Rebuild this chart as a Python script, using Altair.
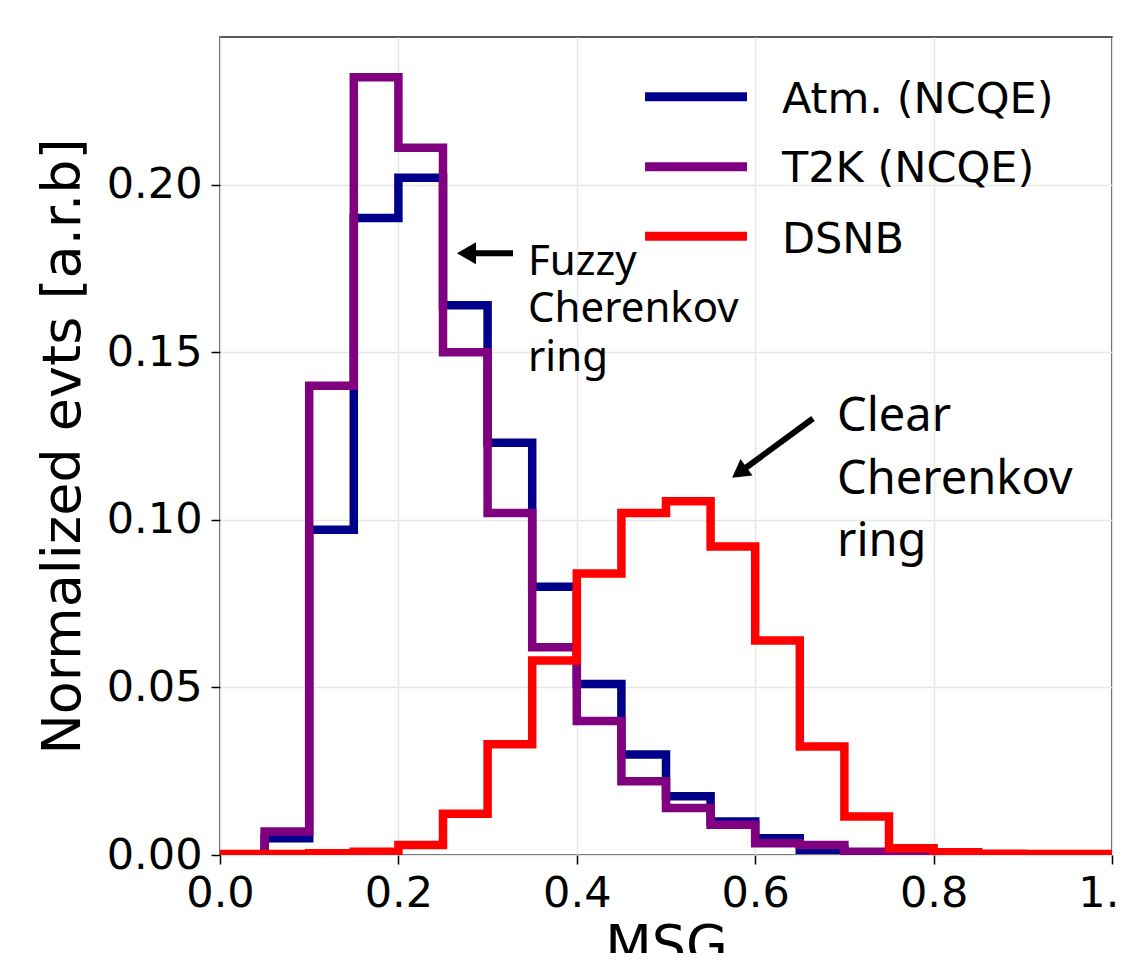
import altair as alt
import pandas as pd

# ---- data ----
bin_lefts = [0.00, 0.05, 0.10, 0.15, 0.20, 0.25, 0.30, 0.35, 0.40, 0.45,
             0.50, 0.55, 0.60, 0.65, 0.70, 0.75, 0.80, 0.85, 0.90, 0.95]
last_edge = 1.0

atm = [0.0, 0.005, 0.097, 0.190, 0.202, 0.164, 0.123, 0.080, 0.051, 0.030,
       0.0175, 0.010, 0.005, 0.0016, 0.0005, 0.0, 0.0, 0.0, 0.0, 0.0]
t2k = [0.0, 0.007, 0.140, 0.232, 0.211, 0.150, 0.102, 0.062, 0.040, 0.022,
       0.014, 0.009, 0.0035, 0.003, 0.001, 0.0005, 0.0, 0.0, 0.0, 0.0]
dsnb = [0.0003, 0.0003, 0.0005, 0.001, 0.003, 0.0123, 0.033, 0.058, 0.084, 0.102,
        0.1055, 0.092, 0.064, 0.0324, 0.0115, 0.002, 0.0008, 0.0004, 0.0003, 0.0003]

series_names = ["Atm. (NCQE)", "T2K (NCQE)", "DSNB"]
series_colors = ["#00008b", "#800080", "#ff0000"]

x_ticks = [0.0, 0.2, 0.4, 0.6, 0.8, 1.0]
y_ticks = [0.00, 0.05, 0.10, 0.15, 0.20]

# legend placement (data units)
legend_x0 = 0.4765
legend_x1 = 0.5908
legend_label_x = 0.630
legend_line_y = [0.2262, 0.2053, 0.1846]
legend_text_y = [0.2213, 0.2008, 0.1795]

# annotations (data units)
fuzzy_lines = ["Fuzzy", "Cherenkov", "ring"]
fuzzy_x = 0.3453
fuzzy_y = [0.1729, 0.1589, 0.1445]
clear_lines = ["Clear", "Cherenkov", "ring"]
clear_x = 0.6917
clear_y = [0.1266, 0.1077, 0.0892]

# ---- tables ----
rows = []
for name, vals in zip(series_names, [atm, t2k, dsnb]):
    for e, v in zip(bin_lefts, vals):
        rows.append({"series": name, "x": e, "y": v})
    rows.append({"series": name, "x": last_edge, "y": vals[-1]})
hist = pd.DataFrame(rows)

xs = alt.Scale(domain=[0, 1], nice=False, zero=False)
ys = alt.Scale(domain=[0, 0.244], nice=False, zero=False)

axis_common = dict(
    labelFontSize=43, labelColor="black", labelFont="DejaVu Sans",
    tickSize=9, tickWidth=1.5, tickColor="black",
    titleFontSize=54, titleFontWeight="normal", titleColor="black", titleFont="DejaVu Sans",
    grid=True, gridColor="#e6e6e6", gridWidth=1.5, domain=False,
    labelFlush=False, labelOverlap=False, labelBound=False,
)
x_axis = alt.Axis(values=x_ticks, format=".1f", title="MSG", labelPadding=8, titlePadding=4, **axis_common)
y_axis = alt.Axis(values=y_ticks, format=".2f", title="Normalized evts [a.r.b]", labelPadding=9, titlePadding=16, **axis_common)


def X(field):
    return alt.X(field, scale=xs, axis=x_axis)


def Y(field):
    return alt.Y(field, scale=ys, axis=y_axis)


layers = []
for name, col in zip(series_names, series_colors):
    layers.append(
        alt.Chart(hist).transform_filter(alt.datum.series == name)
        .mark_line(interpolate="step-after", color=col, strokeWidth=8.5, clip=True,
                   strokeJoin="miter", strokeCap="butt")
        .encode(x=X("x:Q"), y=Y("y:Q"))
    )

# legend
leg = pd.DataFrame({
    "series": series_names, "x0": [legend_x0] * 3, "x1": [legend_x1] * 3,
    "ly": legend_line_y, "lx": [legend_label_x] * 3, "ty": legend_text_y,
})
leg_lines = alt.Chart(leg).mark_rule(strokeWidth=9).encode(
    x=X("x0:Q"), x2="x1:Q", y=Y("ly:Q"),
    color=alt.Color("series:N", scale=alt.Scale(domain=series_names, range=series_colors), legend=None),
)
leg_text = alt.Chart(leg).mark_text(align="left", baseline="alphabetic", font="DejaVu Sans",
                                    fontSize=43, color="black").encode(
    x=X("lx:Q"), y=Y("ty:Q"), text="series:N")

# annotations
fz = pd.DataFrame({"t": fuzzy_lines, "x": [fuzzy_x] * 3, "y": fuzzy_y})
cl = pd.DataFrame({"t": clear_lines, "x": [clear_x] * 3, "y": clear_y})
fuzzy_text = alt.Chart(fz).mark_text(align="left", baseline="alphabetic", font="Noto Sans",
                                     fontSize=42, color="black").encode(
    x=X("x:Q"), y=Y("y:Q"), text="t:N")
clear_text = alt.Chart(cl).mark_text(align="left", baseline="alphabetic", font="Noto Sans",
                                     fontSize=47, color="black").encode(
    x=X("x:Q"), y=Y("y:Q"), text="t:N")

arrows = pd.DataFrame({
    "name": ["fuzzy", "clear"],
    "x0": [0.3285, 0.6648], "y0": [0.1795, 0.1302],
    "x1": [0.2763, 0.5822], "y1": [0.1795, 0.1141],
})
arrow_shaft = alt.Chart(arrows).mark_rule(strokeWidth=6, color="black").encode(
    x=X("x0:Q"), y=Y("y0:Q"), x2="x1:Q", y2="y1:Q")
head_fuzzy = alt.Chart(arrows).transform_filter(alt.datum.name == "fuzzy").mark_point(
    shape="triangle-left", filled=True, size=484, color="black", opacity=1).encode(
    x=X("x1:Q"), y=Y("y1:Q"))
head_clear = alt.Chart(arrows).transform_filter(alt.datum.name == "clear").mark_point(
    shape="triangle-up", filled=True, size=420, angle=234, color="black", opacity=1).encode(
    x=X("x1:Q"), y=Y("y1:Q"))

chart = alt.layer(
    *layers, leg_lines, leg_text, fuzzy_text, clear_text, arrow_shaft, head_fuzzy, head_clear
).properties(
    width=892, height=818,
    autosize=alt.AutoSizeParams(type="none"),
    padding={"left": 212, "top": 29, "right": 5, "bottom": 98},
    background="white",
).configure_view(
    stroke="#222222", strokeWidth=1.6
)

chart.save("out.html", embed_options={"renderer": "svg", "actions": False})
